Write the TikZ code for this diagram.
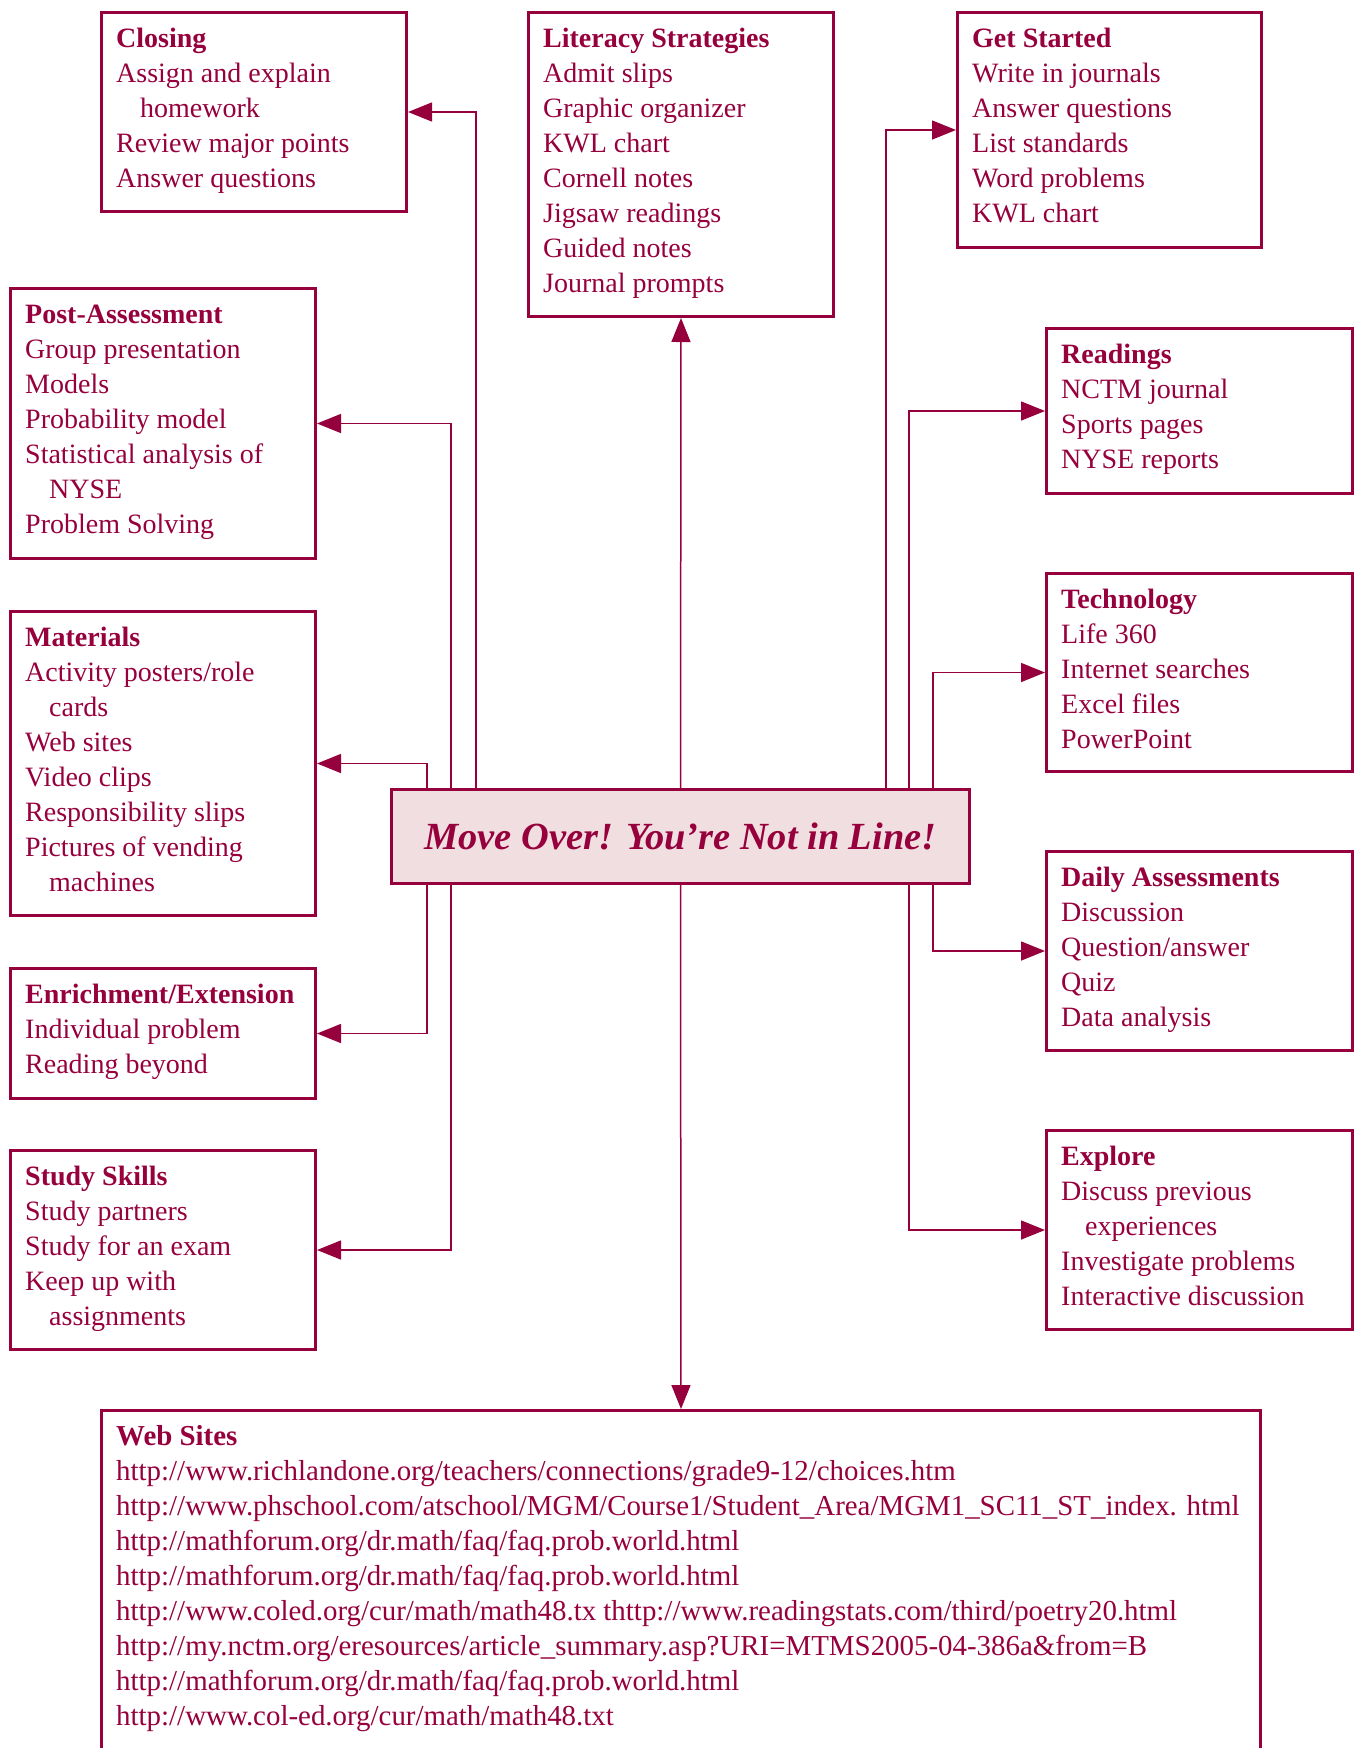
\documentclass[tikz,border=0pt]{standalone}
\usepackage{fontspec}
\setmainfont{Liberation Serif}
\usetikzlibrary{arrows.meta,calc}
\definecolor{crim}{RGB}{150,0,60}
\definecolor{pinkfill}{RGB}{241,222,224}
\tikzset{
  box/.style={draw=crim, line width=3pt, rectangle, inner sep=0pt, anchor=north west},
  txt/.style={anchor=base west, inner sep=0pt, text=crim, font=\fontsize{28}{35.1}\selectfont},
  webtxt/.style={txt, font=\fontsize{28.9}{35.1}\selectfont},
  conn/.style={draw=crim, line width=1.5pt, -{Triangle[length=24pt,width=19pt]}},
  mainbox/.style={draw=crim, line width=3pt, fill=pinkfill, rectangle, inner sep=0pt, anchor=north west,
    text=crim, font=\fontsize{38.4}{46}\selectfont\bfseries\itshape},
}
\newcommand\ind{\hspace*{24pt}}
\begin{document}
\begin{tikzpicture}[x=1pt,y=-1pt]
\useasboundingbox (0,0) rectangle (1354,1748);
\clip (0,0) rectangle (1354,1748);

% boxes
\node[box, minimum width=305pt, minimum height=199pt] (closing) at (100,11) {};
\node[box, minimum width=305pt, minimum height=304pt] (literacy) at (527,11) {};
\node[box, minimum width=304pt, minimum height=235pt] (getstarted) at (956,11) {};
\node[box, minimum width=305pt, minimum height=270pt] (post) at (9,287) {};
\node[box, minimum width=305pt, minimum height=304pt] (materials) at (9,610) {};
\node[box, minimum width=305pt, minimum height=130pt] (enrich) at (9,967) {};
\node[box, minimum width=305pt, minimum height=199pt] (study) at (9,1149) {};
\node[box, minimum width=306pt, minimum height=165pt] (readings) at (1045,327) {};
\node[box, minimum width=306pt, minimum height=198pt] (tech) at (1045,572) {};
\node[box, minimum width=306pt, minimum height=199pt] (daily) at (1045,850) {};
\node[box, minimum width=306pt, minimum height=199pt] (explore) at (1045,1129) {};
\node[box, minimum width=1159pt, minimum height=420pt] (web) at (100,1409) {};
\node[mainbox, minimum width=578pt, minimum height=94pt] (main) at (390,788) {Move Over! You’re Not in Line!};

% texts
\node[txt] (closingT) at ([xshift=16pt,yshift=-36pt]closing.north west) {\parbox[t]{290pt}{\textbf{Closing}\\Assign and explain\\\ind homework\\Review major points\\Answer questions}};
\node[txt] (literacyT) at ([xshift=16pt,yshift=-36pt]literacy.north west) {\parbox[t]{290pt}{\textbf{Literacy Strategies}\\Admit slips\\Graphic organizer\\KWL chart\\Cornell notes\\Jigsaw readings\\Guided notes\\Journal prompts}};
\node[txt] (getstartedT) at ([xshift=16pt,yshift=-36pt]getstarted.north west) {\parbox[t]{290pt}{\textbf{Get Started}\\Write in journals\\Answer questions\\List standards\\Word problems\\KWL chart}};
\node[txt] (postT) at ([xshift=16pt,yshift=-36pt]post.north west) {\parbox[t]{290pt}{\textbf{Post-Assessment}\\Group presentation\\Models\\Probability model\\Statistical analysis of\\\ind NYSE\\Problem Solving}};
\node[txt] (materialsT) at ([xshift=16pt,yshift=-36pt]materials.north west) {\parbox[t]{290pt}{\textbf{Materials}\\Activity posters/role\\\ind cards\\Web sites\\Video clips\\Responsibility slips\\Pictures of vending\\\ind machines}};
\node[txt] (enrichT) at ([xshift=16pt,yshift=-36pt]enrich.north west) {\parbox[t]{290pt}{\textbf{Enrichment/Extension}\\Individual problem\\Reading beyond}};
\node[txt] (studyT) at ([xshift=16pt,yshift=-36pt]study.north west) {\parbox[t]{290pt}{\textbf{Study Skills}\\Study partners\\Study for an exam\\Keep up with\\\ind assignments}};
\node[txt] (readingsT) at ([xshift=16pt,yshift=-36pt]readings.north west) {\parbox[t]{290pt}{\textbf{Readings}\\NCTM journal\\Sports pages\\NYSE reports}};
\node[txt] (techT) at ([xshift=16pt,yshift=-36pt]tech.north west) {\parbox[t]{290pt}{\textbf{Technology}\\Life 360\\Internet searches\\Excel files\\PowerPoint}};
\node[txt] (dailyT) at ([xshift=16pt,yshift=-36pt]daily.north west) {\parbox[t]{290pt}{\textbf{Daily Assessments}\\Discussion\\Question/answer\\Quiz\\Data analysis}};
\node[txt] (exploreT) at ([xshift=16pt,yshift=-36pt]explore.north west) {\parbox[t]{290pt}{\textbf{Explore}\\Discuss previous\\\ind experiences\\Investigate problems\\Interactive discussion}};
\node[webtxt] (webT) at ([xshift=16pt,yshift=-36pt]web.north west) {\parbox[t]{1200pt}{\textbf{Web Sites}\\
http://www.richlandone.org/teachers/connections/grade9-12/choices.htm\\
http://www.phschool.com/atschool/MGM/Course1/Student\_Area/MGM1\_SC11\_ST\_index. html\\
http://mathforum.org/dr.math/faq/faq.prob.world.html\\
http://mathforum.org/dr.math/faq/faq.prob.world.html\\
http://www.coled.org/cur/math/math48.tx thttp://www.readingstats.com/third/poetry20.html\\
http://my.nctm.org/eresources/article\_summary.asp?URI=MTMS2005-04-386a\&from=B\\
http://mathforum.org/dr.math/faq/faq.prob.world.html\\
http://www.col-ed.org/cur/math/math48.txt}};

% connector x positions
\coordinate (xl1) at (476,0);
\coordinate (xl2) at (451,0);
\coordinate (xl3) at (427,0);
\coordinate (xr1) at (886,0);
\coordinate (xr2) at (909,0);
\coordinate (xr3) at (933,0);

% connectors
\draw[conn] (main.north -| xl1) |- (closing.east);
\draw[conn] (main.north -| xl2) |- (post.east);
\draw[conn] (main.north -| xl3) |- (materials.east);
\draw[conn] (main.south -| xl3) |- (enrich.east);
\draw[conn] (main.south -| xl2) |- (study.east);
\draw[conn] (main.north) -- (literacy.south);
\draw[conn] (main.south) -- (web.north);
\draw[conn] (main.north -| xr1) |- (getstarted.west);
\draw[conn] (main.north -| xr2) |- (readings.west);
\draw[conn] (main.north -| xr3) |- (tech.west);
\draw[conn] (main.south -| xr3) |- (daily.west);
\draw[conn] (main.south -| xr2) |- (explore.west);
\end{tikzpicture}
\end{document}
